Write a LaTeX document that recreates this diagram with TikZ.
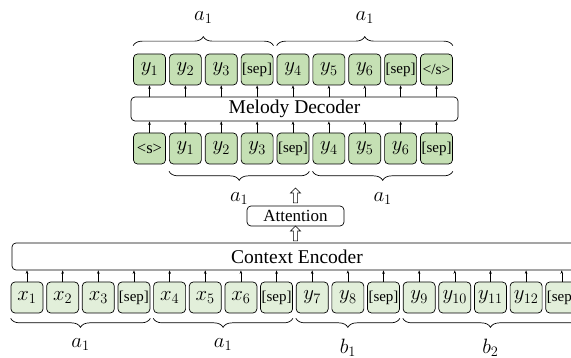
\documentclass[tikz,border=0pt]{standalone}
\usepackage{fontspec}
\setmainfont{Liberation Serif}
\usetikzlibrary{arrows.meta,decorations.pathreplacing,shapes.arrows}
\definecolor{gtop}{RGB}{197,224,180}
\definecolor{gbot}{RGB}{226,239,218}
\begin{document}
\begin{tikzpicture}[x=1pt,y=-1pt,
  tok/.style={draw, rounded corners=4pt, minimum width=32pt, minimum height=31pt, inner sep=0pt, line width=0.7pt, font=\fontsize{20}{22}\selectfont},
  toptok/.style={tok, fill=gtop},
  bottok/.style={tok, fill=gbot},
  block/.style={draw, rounded corners=4pt, inner sep=0pt, line width=0.7pt},
  arr/.style={line width=0.5pt, -{Stealth[length=3.5pt,width=2.6pt]}},
  holarrow/.style={single arrow, draw, line width=0.6pt, fill=white, rotate=90, minimum height=15pt, minimum width=10pt, inner sep=1.8pt, single arrow head extend=3pt, single arrow tip angle=90},
  brc/.style={decorate, decoration={brace, amplitude=9pt}, line width=0.7pt},
  lbl/.style={font=\fontsize{19.5}{21}\selectfont, inner sep=0pt}
]
\useasboundingbox (0,0) rectangle (571,358);
\clip (0,0) rectangle (571,358);

% Melody decoder
\node[block, minimum width=327pt, minimum height=24pt, font=\fontsize{19.5}{21}\selectfont] (dec) at (294.5,109) {Melody Decoder};

% output row
\foreach \i/\t in {1/$y_1$,2/$y_2$,3/$y_3$,4/{\fontsize{15}{16}\selectfont[sep]},5/$y_4$,6/$y_5$,7/$y_6$,8/{\fontsize{15}{16}\selectfont[sep]},9/{\fontsize{15.5}{16}\selectfont</s>}}{
  \node[toptok] (o\i) at ({149.5+35.875*(\i-1)},69.5) {\t};
  \draw[arr] (o\i.south |- dec.north) -- (o\i.south);
}
% input row
\foreach \i/\t in {1/{\fontsize{16.5}{16}\selectfont<s>},2/$y_1$,3/$y_2$,4/$y_3$,5/{\fontsize{15}{16}\selectfont[sep]},6/$y_4$,7/$y_5$,8/$y_6$,9/{\fontsize{15}{16}\selectfont[sep]}}{
  \node[toptok] (i\i) at ({149.5+35.875*(\i-1)},148.5) {\t};
  \draw[arr] (i\i.north) -- (i\i.north |- dec.south);
}

% attention and context encoder
\node[block, minimum width=97pt, minimum height=20pt, font=\fontsize{17}{19}\selectfont] (att) at (295.5,216) {Attention};
\node[block, minimum width=570pt, minimum height=27pt, font=\fontsize{19.5}{21}\selectfont] (enc) at (297,256.5) {Context Encoder};
\node[holarrow] (h1) at (295.5,196.5) {};
\node[holarrow] (h2) at (295.5,234.5) {};

% bottom row
\foreach \i/\t in {1/$x_1$,2/$x_2$,3/$x_3$,4/{\fontsize{15}{16}\selectfont[sep]},5/$x_4$,6/$x_5$,7/$x_6$,8/{\fontsize{15}{16}\selectfont[sep]},9/$y_7$,10/$y_8$,11/{\fontsize{15}{16}\selectfont[sep]},12/$y_9$,13/$y_{10}$,14/$y_{11}$,15/$y_{12}$,16/{\fontsize{15}{16}\selectfont[sep]}}{
  \node[bottok] (b\i) at ({27+35.65*(\i-1)},297.5) {\t};
  \draw[arr] (b\i.north) -- (b\i.north |- enc.south);
}

% braces top
\draw[brc] ([yshift=8pt]o1.north west) -- ([yshift=8pt]o4.north east) node[midway, above=22pt, lbl] {$a_1$};
\draw[brc] ([yshift=8pt]o5.north west) -- ([yshift=8pt]o9.north east) node[midway, above=22pt, lbl] {$a_1$};
% braces under input row
\draw[brc] ([yshift=-7pt]i5.south east) -- ([yshift=-7pt]i2.south west) node[midway, below=21pt, lbl] {$a_1$};
\draw[brc] ([yshift=-7pt]i9.south east) -- ([yshift=-7pt]i6.south west) node[midway, below=21pt, lbl] {$a_1$};
% braces under bottom row
\draw[brc] ([yshift=-5pt]b4.south east) -- ([yshift=-5pt]b1.south west) node[midway, below=20pt, lbl] {$a_1$};
\draw[brc] ([yshift=-5pt]b8.south east) -- ([yshift=-5pt]b5.south west) node[midway, below=20pt, lbl] {$a_1$};
\draw[brc] ([yshift=-5pt]b11.south east) -- ([yshift=-5pt]b9.south west) node[midway, below=20pt, lbl] {$b_1$};
\draw[brc] ([yshift=-5pt]b16.south east) -- ([yshift=-5pt]b12.south west) node[midway, below=20pt, lbl] {$b_2$};
\end{tikzpicture}
\end{document}
